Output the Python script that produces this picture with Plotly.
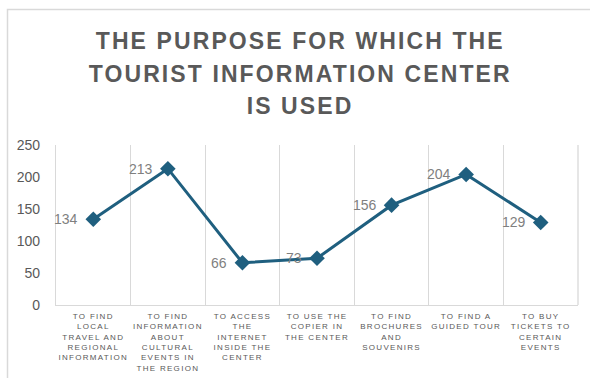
import plotly.graph_objects as go

# Survey results: purpose for which the tourist information center is used
purposes = [
    "TO FIND<br>LOCAL<br>TRAVEL AND<br>REGIONAL<br>INFORMATION",
    "TO FIND<br>INFORMATION<br>ABOUT<br>CULTURAL<br>EVENTS IN<br>THE REGION",
    "TO ACCESS<br>THE<br>INTERNET<br>INSIDE THE<br>CENTER",
    "TO USE THE<br>COPIER IN<br>THE CENTER",
    "TO FIND<br>BROCHURES<br>AND<br>SOUVENIRS",
    "TO FIND A<br>GUIDED TOUR",
    "TO BUY<br>TICKETS TO<br>CERTAIN<br>EVENTS",
]
counts = [134, 213, 66, 73, 156, 204, 129]
y_ticks = [0, 50, 100, 150, 200, 250]
title_lines = ["THE PURPOSE FOR WHICH THE", "TOURIST INFORMATION CENTER", "IS USED"]

W, H = 590, 378
ML, MR, MT, MB = 56, 12, 145, 73
pw, ph = W - ML - MR, H - MT - MB

LINE = "#1f5f7f"
GRID = "#d9d9d9"
FONT = "Liberation Sans, Arial, sans-serif"


def px_to_paper_x(px):
    return (px - ML) / pw


def px_to_paper_y(py):
    return 1 + (MT - py) / ph


fig = go.Figure(
    go.Scatter(
        x=purposes,
        y=counts,
        mode="lines+markers",
        line=dict(color=LINE, width=3),
        marker=dict(symbol="diamond", size=12, color=LINE),
        cliponaxis=False,
        hoverinfo="skip",
    )
)

# three-line chart heading, with generous line spacing
for i, line in enumerate(title_lines):
    fig.add_annotation(
        xref="paper", yref="paper",
        x=px_to_paper_x(300), y=px_to_paper_y(41 + 32.5 * i),
        text=f"<b>{line}</b>", showarrow=False,
        xanchor="center", yanchor="middle",
        font=dict(family=FONT, size=23, color="#595959"),
    )

# value labels to the left of each point
for cat, v in zip(purposes, counts):
    fig.add_annotation(
        x=cat, y=v, text=str(v), showarrow=False,
        xanchor="right", yanchor="middle", xshift=-13,
        font=dict(family=FONT, size=14, color="#7f7f7f"),
    )

fig.update_layout(
    width=W,
    height=H,
    margin=dict(l=ML, r=MR, t=MT, b=MB, autoexpand=False),
    paper_bgcolor="white",
    plot_bgcolor="white",
    showlegend=False,
    xaxis=dict(
        type="category",
        tickson="boundaries",
        showgrid=True,
        gridcolor=GRID,
        gridwidth=1.3,
        showline=True,
        linecolor=GRID,
        linewidth=1.3,
        ticks="",
        tickfont=dict(family=FONT, size=8, color="#595959"),
        ticklabelstandoff=3,
        range=[-0.5, 6.5],
        automargin=False,
        fixedrange=True,
    ),
    yaxis=dict(
        range=[0, 250],
        tickvals=y_ticks,
        showgrid=False,
        zeroline=False,
        showline=True,
        linecolor=GRID,
        linewidth=1.3,
        ticks="",
        ticklabelstandoff=12,
        tickfont=dict(family=FONT, size=14, color="#595959"),
        automargin=False,
        fixedrange=True,
    ),
    shapes=[
        # chart frame
        dict(
            type="rect",
            xref="paper",
            yref="paper",
            x0=px_to_paper_x(7.5),
            x1=px_to_paper_x(W + 5),
            y0=px_to_paper_y(H + 5),
            y1=px_to_paper_y(9.5),
            line=dict(color=GRID, width=1.5),
            layer="below",
        ),
        # right edge of the plot area
        dict(
            type="line", xref="paper", yref="paper",
            x0=1, x1=1, y0=0, y1=1,
            line=dict(color=GRID, width=1.3),
            layer="below",
        ),
    ],
)

spacing_js = """
document.querySelectorAll('.annotation-text').forEach(function(e){
  if (e.textContent.length > 5) { e.style.letterSpacing = '2.1px'; }
});
document.querySelectorAll('.xtick text').forEach(function(e){e.style.letterSpacing='1.3px';});
"""

fig.write_html("out.html", post_script=spacing_js)
